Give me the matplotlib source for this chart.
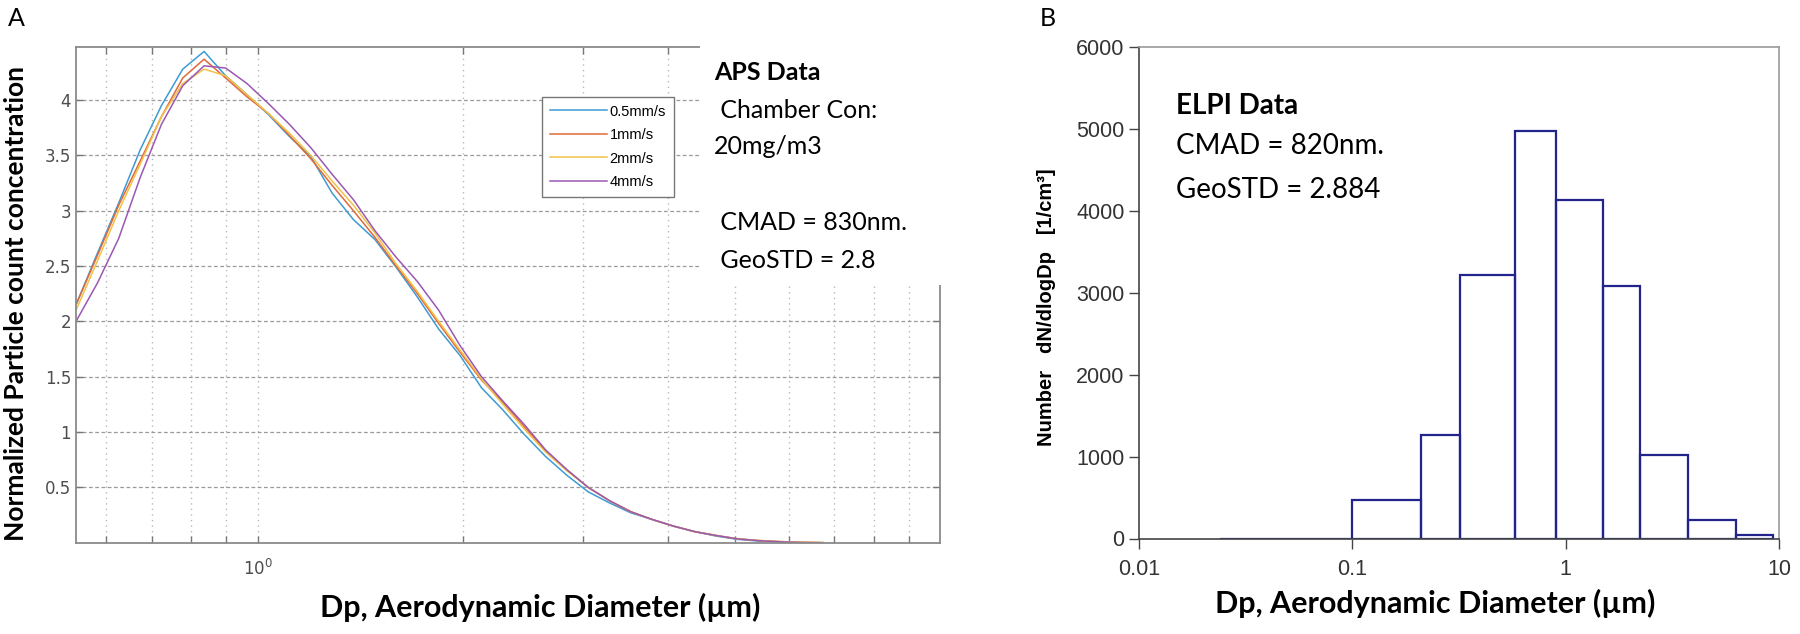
import numpy as np
import matplotlib.pyplot as plt
from matplotlib.patches import Rectangle
from matplotlib.ticker import FixedLocator, NullFormatter, FixedFormatter

# APS data (panel A)
dp_aps = [0.542, 0.583, 0.626, 0.673, 0.723, 0.777, 0.835, 0.898, 0.965, 1.037,
          1.114, 1.197, 1.286, 1.382, 1.486, 1.596, 1.715, 1.843, 1.981, 2.129,
          2.288, 2.458, 2.642, 2.839, 3.051, 3.278, 3.523, 3.786, 4.068, 4.371,
          4.698, 5.048, 5.425, 5.829, 6.264, 6.732]
v05 = [2.15, 2.62, 3.07, 3.55, 3.95, 4.28, 4.44, 4.22, 4.05, 3.87,
       3.67, 3.49, 3.16, 2.92, 2.74, 2.49, 2.22, 1.93, 1.69, 1.40,
       1.20, 0.98, 0.78, 0.61, 0.46, 0.36, 0.27, 0.21, 0.15, 0.10,
       0.06, 0.03, 0.015, 0.008, 0.0, 0.0]
v1 = [2.15, 2.60, 3.05, 3.45, 3.85, 4.20, 4.37, 4.20, 4.03, 3.88,
      3.68, 3.47, 3.23, 3.00, 2.76, 2.50, 2.25, 1.98, 1.72, 1.47,
      1.27, 1.05, 0.83, 0.66, 0.50, 0.38, 0.28, 0.21, 0.15, 0.10,
      0.065, 0.035, 0.02, 0.01, 0.003, 0.0]
v2 = [2.10, 2.55, 3.00, 3.42, 3.85, 4.15, 4.28, 4.22, 4.05, 3.88,
      3.70, 3.50, 3.27, 3.05, 2.80, 2.52, 2.27, 2.00, 1.74, 1.48,
      1.25, 1.03, 0.82, 0.65, 0.50, 0.38, 0.28, 0.21, 0.15, 0.10,
      0.065, 0.035, 0.02, 0.01, 0.005, 0.002]
v4 = [2.00, 2.35, 2.75, 3.30, 3.78, 4.13, 4.31, 4.29, 4.15, 3.97,
      3.78, 3.57, 3.33, 3.10, 2.82, 2.58, 2.36, 2.10, 1.78, 1.50,
      1.28, 1.07, 0.84, 0.66, 0.50, 0.38, 0.28, 0.21, 0.15, 0.10,
      0.065, 0.035, 0.018, 0.008, 0.002, 0.0]
labels_aps = ["0.5mm/s", "1mm/s", "2mm/s", "4mm/s"]
colors_aps = ["#3d9bd4", "#e0693c", "#f0c248", "#9b58b3"]

# ELPI data (panel B)
elpi_edges = [0.024, 0.1, 0.21, 0.32, 0.58, 0.9, 1.5, 2.24, 3.75, 6.3, 9.4]
elpi_vals = [0, 465, 1268, 3215, 4976, 4132, 3081, 1023, 232, 37]

W, H = 1800, 634
fig = plt.figure(figsize=(18, 6.34), dpi=100)

def fx(px):
    return px / W

def fy(py):
    return 1 - py / H

# ---------- panel A ----------
axA = fig.add_axes([fx(76), fy(542.7), (940 - 76) / W, (542.7 - 47) / H])
for y, lab, c in zip([v05, v1, v2, v4], labels_aps, colors_aps):
    axA.plot(dp_aps, y, color=c, lw=1.1, label=lab)
axA.set_xscale("log")
axA.set_xlim(0.542, 10)
axA.set_ylim(0, 4.48)
axA.xaxis.set_major_locator(FixedLocator([1]))
axA.xaxis.set_major_formatter(FixedFormatter([r"$10^{0}$"]))
axA.xaxis.set_minor_locator(FixedLocator([0.6, 0.7, 0.8, 0.9, 2, 3, 4, 5, 6, 7, 8, 9]))
axA.xaxis.set_minor_formatter(NullFormatter())
axA.set_yticks([0.5, 1, 1.5, 2, 2.5, 3, 3.5, 4])
axA.set_yticklabels(["0.5", "1", "1.5", "2", "2.5", "3", "3.5", "4"])
axA.tick_params(which="both", direction="in", top=True, right=True,
                color="#777777", labelcolor="#4d4d4d", labelsize=12,
                length=5, width=1)
axA.tick_params(axis="x", which="major", pad=12)
axA.grid(True, which="major", axis="y", color="#9a9a9a", ls=(0, (3, 2)), lw=0.9)
axA.grid(True, which="both", axis="x", color="#b8b8b8", ls=(0, (1, 3)), lw=1.0)
for s in axA.spines.values():
    s.set_color("#8a8a8a")
    s.set_linewidth(1.3)
leg = axA.legend(loc="upper right", bbox_to_anchor=(0.692, 0.90), borderaxespad=0,
                 fancybox=False, framealpha=1, edgecolor="#777777",
                 handlelength=3.9, labelspacing=0.65, handletextpad=0.2,
                 borderpad=0.55,
                 prop={"family": ["Liberation Sans Narrow", "Liberation Sans"], "size": 10.5})
leg.get_frame().set_linewidth(1.0)
axA.set_ylabel("Normalized Particle count concentration", family="Lato",
               fontweight="bold", fontsize=19, ha="center", va="center")
axA.yaxis.set_label_coords(-0.069, 0.4825)
fig.text(fx(540), fy(607), "Dp, Aerodynamic Diameter (µm)", family="Lato",
         fontweight="bold", fontsize=22, ha="center", va="center")

# white box behind the APS annotation
fig.patches.append(Rectangle((fx(700), fy(285)), fx(955) - fx(700), 1 - fy(285),
                             transform=fig.transFigure, facecolor="white",
                             edgecolor="none", zorder=5))
fig.text(fx(714), fy(72), "APS Data", family="Lato", fontweight="bold",
         fontsize=18, va="center", zorder=6)
fig.text(fx(714), fy(110), " Chamber Con:", family="Lato", fontsize=18,
         va="center", zorder=6)
fig.text(fx(714), fy(147), "20mg/m3", family="Lato", fontsize=18,
         va="center", zorder=6)
fig.text(fx(714), fy(223), " CMAD = 830nm.", family="Lato", fontsize=18,
         va="center", zorder=6)
fig.text(fx(714), fy(260), " GeoSTD = 2.8", family="Lato", fontsize=18,
         va="center", zorder=6)
fig.text(fx(8), fy(18), "A", family="Lato", fontsize=18, va="center")

# ---------- panel B ----------
axB = fig.add_axes([fx(1139), fy(538.5), (1779 - 1139) / W, (538.5 - 47.3) / H])
widths = np.diff(elpi_edges)
axB.bar(elpi_edges[:-1], elpi_vals, width=widths, align="edge",
        facecolor="none", edgecolor="#23238c", lw=1.6)
axB.set_xscale("log")
axB.set_xlim(0.01, 10)
axB.set_ylim(0, 6000)
axB.xaxis.set_major_locator(FixedLocator([0.01, 0.1, 1, 10]))
axB.xaxis.set_major_formatter(FixedFormatter(["0.01", "0.1", "1", "10"]))
axB.xaxis.set_minor_locator(FixedLocator([]))
axB.set_yticks(range(0, 7000, 1000))
axB.tick_params(direction="out", length=7, width=1, color="#444444",
                labelsize=15.5, labelcolor="#333333")
axB.tick_params(axis="x", pad=8)
for lab in axB.get_xticklabels() + axB.get_yticklabels():
    lab.set_family("Liberation Sans")
axB.spines["left"].set_color("#444444")
axB.spines["bottom"].set_color("#444444")
axB.spines["top"].set_color("#999999")
axB.spines["right"].set_color("#999999")
for s in axB.spines.values():
    s.set_linewidth(1.2)
axB.set_ylabel("Number   dN/dlogDp   [1/cm³]", family="Liberation Sans",
               fontweight="bold", fontsize=14.5, ha="center", va="center")
axB.yaxis.set_label_coords(-0.144, 0.471)
fig.text(fx(1435), fy(603), "Dp, Aerodynamic Diameter (µm)", family="Lato",
         fontweight="bold", fontsize=22, ha="center", va="center")
axB.text(0.058, 0.88, "ELPI Data", transform=axB.transAxes, family="Lato",
         fontweight="bold", fontsize=20, va="center")
axB.text(0.058, 0.80, "CMAD = 820nm.", transform=axB.transAxes, family="Lato",
         fontsize=20, va="center")
axB.text(0.058, 0.71, "GeoSTD = 2.884", transform=axB.transAxes, family="Lato",
         fontsize=20, va="center")
fig.text(fx(1040), fy(18), "B", family="Lato", fontsize=18, va="center")

fig.savefig("out.png", dpi=100)
